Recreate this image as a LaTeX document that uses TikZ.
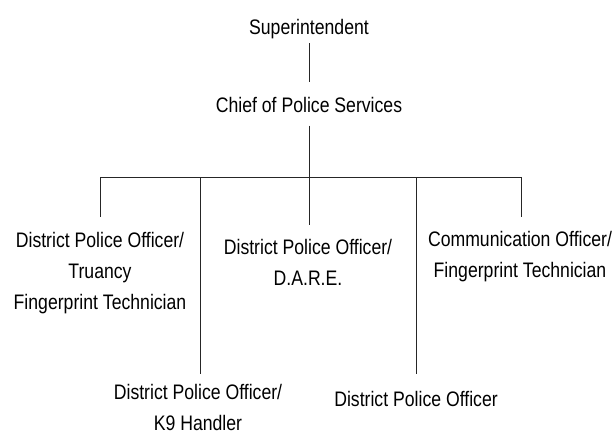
\documentclass[tikz,border=0pt]{standalone}
\usepackage{fontspec}
\setmainfont{Liberation Sans}[FakeStretch=0.84]
\begin{document}
\begin{tikzpicture}[x=1pt,y=-1pt,
  lbl/.style={inner sep=0pt, align=center, anchor=north, text=black,
              font=\fontsize{21}{31}\selectfont},
  conn/.style={draw=black!85, line width=1pt}]
\useasboundingbox (0,0) rectangle (616,436);
% nodes
\node[lbl] (sup)   at (309,18.7)  {Superintendent};
\node[lbl] (chief) at (309,96.7) {Chief of Police Services};
\node[lbl] (c1) at (100,231.7) {District Police Officer/\\Truancy\\Fingerprint Technician};
\node[lbl] (c2) at (198,384.2) {District Police Officer/\\K9 Handler};
\node[lbl] (c3) at (308,238.7) {District Police Officer/\\D.A.R.E.};
\node[lbl] (c4) at (416,390.7) {District Police Officer};
\node[lbl] (c5) at (520,230.7) {Communication Officer/\\Fingerprint Technician};
% bar coordinates
\coordinate (b1) at (100,177);
\coordinate (b2) at (200,177);
\coordinate (b3) at (309,177);
\coordinate (b4) at (416,177);
\coordinate (b5) at (521,177);
% connectors
\draw[conn, shorten <=4.6pt, shorten >=14.7pt] (sup.south) -- (chief.north);
\draw[conn, shorten <=13pt] (chief.south) -- (b3);
\draw[conn] (b1) -- (b5);
\draw[conn, shorten >=14.7pt] (b1) -- (b1 |- c1.north);
\draw[conn, shorten >=10.2pt] (b2) -- (b2 |- c2.north);
\draw[conn, shorten >=13.7pt] (b3) -- (b3 |- c3.north);
\draw[conn, shorten >=16.7pt] (b4) -- (b4 |- c4.north);
\draw[conn, shorten >=13.7pt] (b5) -- (b5 |- c5.north);
\end{tikzpicture}
\end{document}
